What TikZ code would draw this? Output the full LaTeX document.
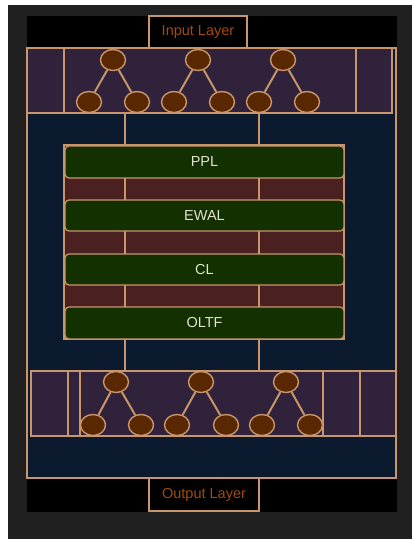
\documentclass[tikz,border=0pt]{standalone}
\usepackage{fontspec}
\setmainfont{Liberation Sans}
\usetikzlibrary{shapes.geometric}
\definecolor{frame}{HTML}{202020}
\definecolor{tan}{HTML}{C8966A}
\definecolor{navy}{HTML}{0B1A2E}
\definecolor{plum}{HTML}{30223A}
\definecolor{brick}{HTML}{4A2020}
\definecolor{leaf}{HTML}{123000}
\definecolor{nodefill}{HTML}{5A2800}
\definecolor{orangetext}{HTML}{A04A10}
\definecolor{paletext}{HTML}{E2E2D2}
\tikzset{
  panel/.style={draw=tan, line width=1.25pt},
  sep/.style={draw=tan, line width=1.25pt},
  layerbox/.style={draw=tan, line width=1.25pt, fill=black, text=orangetext, font=\fontsize{14.5}{16}\selectfont},
  stagebox/.style={draw=tan, line width=1.25pt, fill=leaf, rounded corners=4pt, text=paletext, font=\fontsize{14.5}{16}\selectfont},
  treenode/.style={ellipse, draw=tan, line width=1.4pt, fill=nodefill, minimum width=25pt, minimum height=21pt, inner sep=0pt},
  treeedge/.style={draw=tan, line width=2pt}
}
\begin{document}
\begin{tikzpicture}[x=1pt,y=-1pt]
\useasboundingbox (0,0) rectangle (412,539);
\fill[white] (0,0) rectangle (412,539);
\fill[frame] (8,5) rectangle (412,539);
\fill[black] (27,16) rectangle (397,512);
% navy main panel
\filldraw[panel, fill=navy] (27,48) rectangle (396,478);
% vertical dividers
\draw[sep] (125,113) -- (125,371);
\draw[sep] (259,113) -- (259,371);
% stack
\filldraw[panel, fill=brick] (64,145) rectangle (344,339);
\draw[sep] (125,145) -- (125,339);
\draw[sep] (259,145) -- (259,339);
\node[stagebox, minimum width=279pt, minimum height=32pt] (ppl) at (204.5,162) {PPL};
\node[stagebox, minimum width=279pt, minimum height=31pt] (ewal) at (204.5,215.5) {EWAL};
\node[stagebox, minimum width=279pt, minimum height=31pt] (cl) at (204.5,269.5) {CL};
\node[stagebox, minimum width=279pt, minimum height=32pt] (oltf) at (204.5,323) {OLTF};
% top tree panel
\filldraw[panel, fill=plum] (27,48) rectangle (392,113);
\draw[sep] (64,48) -- (64,113);
\draw[sep] (356,48) -- (356,113);
% bottom tree panel
\filldraw[panel, fill=plum] (31,371) rectangle (396,436);
\draw[sep] (68,371) -- (68,436);
\draw[sep] (80,371) -- (80,436);
\draw[sep] (323,371) -- (323,436);
\draw[sep] (360,371) -- (360,436);
% layer boxes
\node[layerbox, minimum width=98pt, minimum height=32pt] (inp) at (198,32) {Input Layer};
\node[layerbox, minimum width=110pt, minimum height=33pt] (outp) at (204,494.5) {Output Layer};
% top trees
\node[treenode] (ta) at (113,60) {};
\node[treenode] (tb) at (198,60) {};
\node[treenode] (tc) at (283,60) {};
\node[treenode] (ta1) at (89,102) {};
\node[treenode] (ta2) at (137,102) {};
\node[treenode] (tb1) at (174,102) {};
\node[treenode] (tb2) at (222,102) {};
\node[treenode] (tc1) at (259,102) {};
\node[treenode] (tc2) at (307,102) {};
\foreach \p in {ta,tb,tc}{
  \draw[treeedge] (\p) -- (\p1);
  \draw[treeedge] (\p) -- (\p2);
}
% bottom trees
\node[treenode] (ba) at (116,382) {};
\node[treenode] (bb) at (201,382) {};
\node[treenode] (bc) at (286,382) {};
\node[treenode] (ba1) at (93,425) {};
\node[treenode] (ba2) at (141,425) {};
\node[treenode] (bb1) at (177,425) {};
\node[treenode] (bb2) at (226,425) {};
\node[treenode] (bc1) at (262,425) {};
\node[treenode] (bc2) at (310,425) {};
\foreach \p in {ba,bb,bc}{
  \draw[treeedge] (\p) -- (\p1);
  \draw[treeedge] (\p) -- (\p2);
}
\end{tikzpicture}
\end{document}
